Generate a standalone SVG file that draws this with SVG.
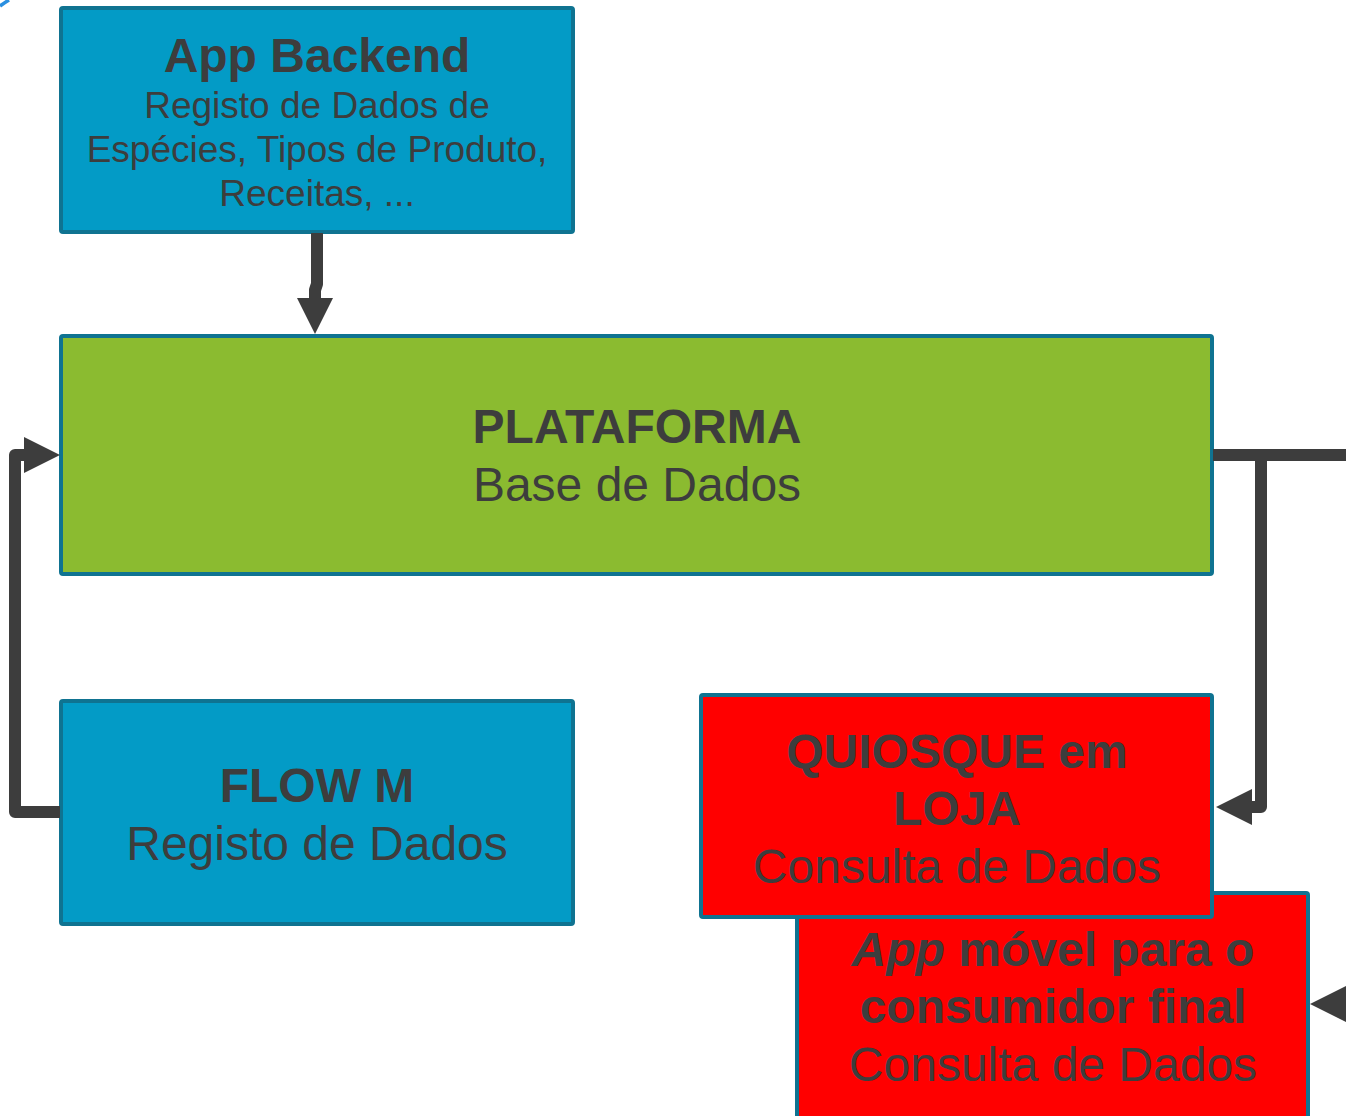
<svg xmlns="http://www.w3.org/2000/svg" width="1346" height="1116" viewBox="0 0 1346 1116">
  <style>
    .box { stroke: #0f7391; stroke-width: 4; }
    .blue { fill: #039bc6; }
    .green { fill: #8bbb30; }
    .red { fill: #ff0000; }
    text { font-family: "Liberation Sans", Arial, sans-serif; fill: #3d3d3d; text-anchor: middle; }
    .t { font-size: 48px; font-weight: bold; }
    .s { font-size: 48px; }
    .s2 { font-size: 37px; }
    .conn { fill: none; stroke: #3d3d3d; stroke-width: 12; stroke-linejoin: round; }
  </style>
  <defs>
    <marker id="arrow" markerUnits="userSpaceOnUse" markerWidth="36" markerHeight="36" viewBox="0 0 36 36" refX="0" refY="18" orient="auto">
      <path d="M0,0 L36,18 L0,36 z" fill="#3d3d3d"/>
    </marker>
  </defs>
  <rect width="1346" height="1116" fill="#ffffff"/>
  <path d="M0,6 Q4,3 9,0" stroke="#2a8fe0" stroke-width="3.5" fill="none"/>

  <g id="app-movel">
    <rect class="box red" x="797" y="893" width="511" height="240" rx="2"/>
    <text x="1053" y="966" class="t"><tspan font-style="italic">App</tspan> móvel para o</text>
    <text x="1053" y="1023" class="t">consumidor final</text>
    <text x="1053" y="1081" class="s">Consulta de Dados</text>
  </g>

  <g id="app-backend">
    <rect class="box blue" x="61" y="8" width="512" height="224" rx="2"/>
    <text x="317" y="72" class="t">App Backend</text>
    <text x="317" y="118" class="s2">Registo de Dados de</text>
    <text x="317" y="162" class="s2">Espécies, Tipos de Produto,</text>
    <text x="317" y="206" class="s2">Receitas, ...</text>
  </g>

  <g id="plataforma">
    <rect class="box green" x="61" y="336" width="1151" height="238" rx="2"/>
    <text x="637" y="443" class="t">PLATAFORMA</text>
    <text x="637" y="501" class="s">Base de Dados</text>
  </g>

  <g id="flow-m">
    <rect class="box blue" x="61" y="701" width="512" height="223" rx="2"/>
    <text x="317" y="802" class="t">FLOW M</text>
    <text x="317" y="860" class="s">Registo de Dados</text>
  </g>

  <g id="quiosque">
    <rect class="box red" x="701" y="695" width="511" height="222" rx="2"/>
    <text x="957" y="768" class="t">QUIOSQUE em</text>
    <text x="957" y="825" class="t">LOJA</text>
    <text x="957" y="883" class="s">Consulta de Dados</text>
  </g>

  <g id="connectors">
    <path class="conn" d="M317,233 V284 L315,290 V298" marker-end="url(#arrow)"/>
    <path class="conn" d="M60,812 H15 V455 H24" marker-end="url(#arrow)"/>
    <path class="conn" d="M1213,455 H1346"/>
    <path class="conn" d="M1261,455 V807 H1252" marker-end="url(#arrow)"/>
    <path class="conn" d="M1380,1004 H1346" marker-end="url(#arrow)"/>
  </g>
</svg>
